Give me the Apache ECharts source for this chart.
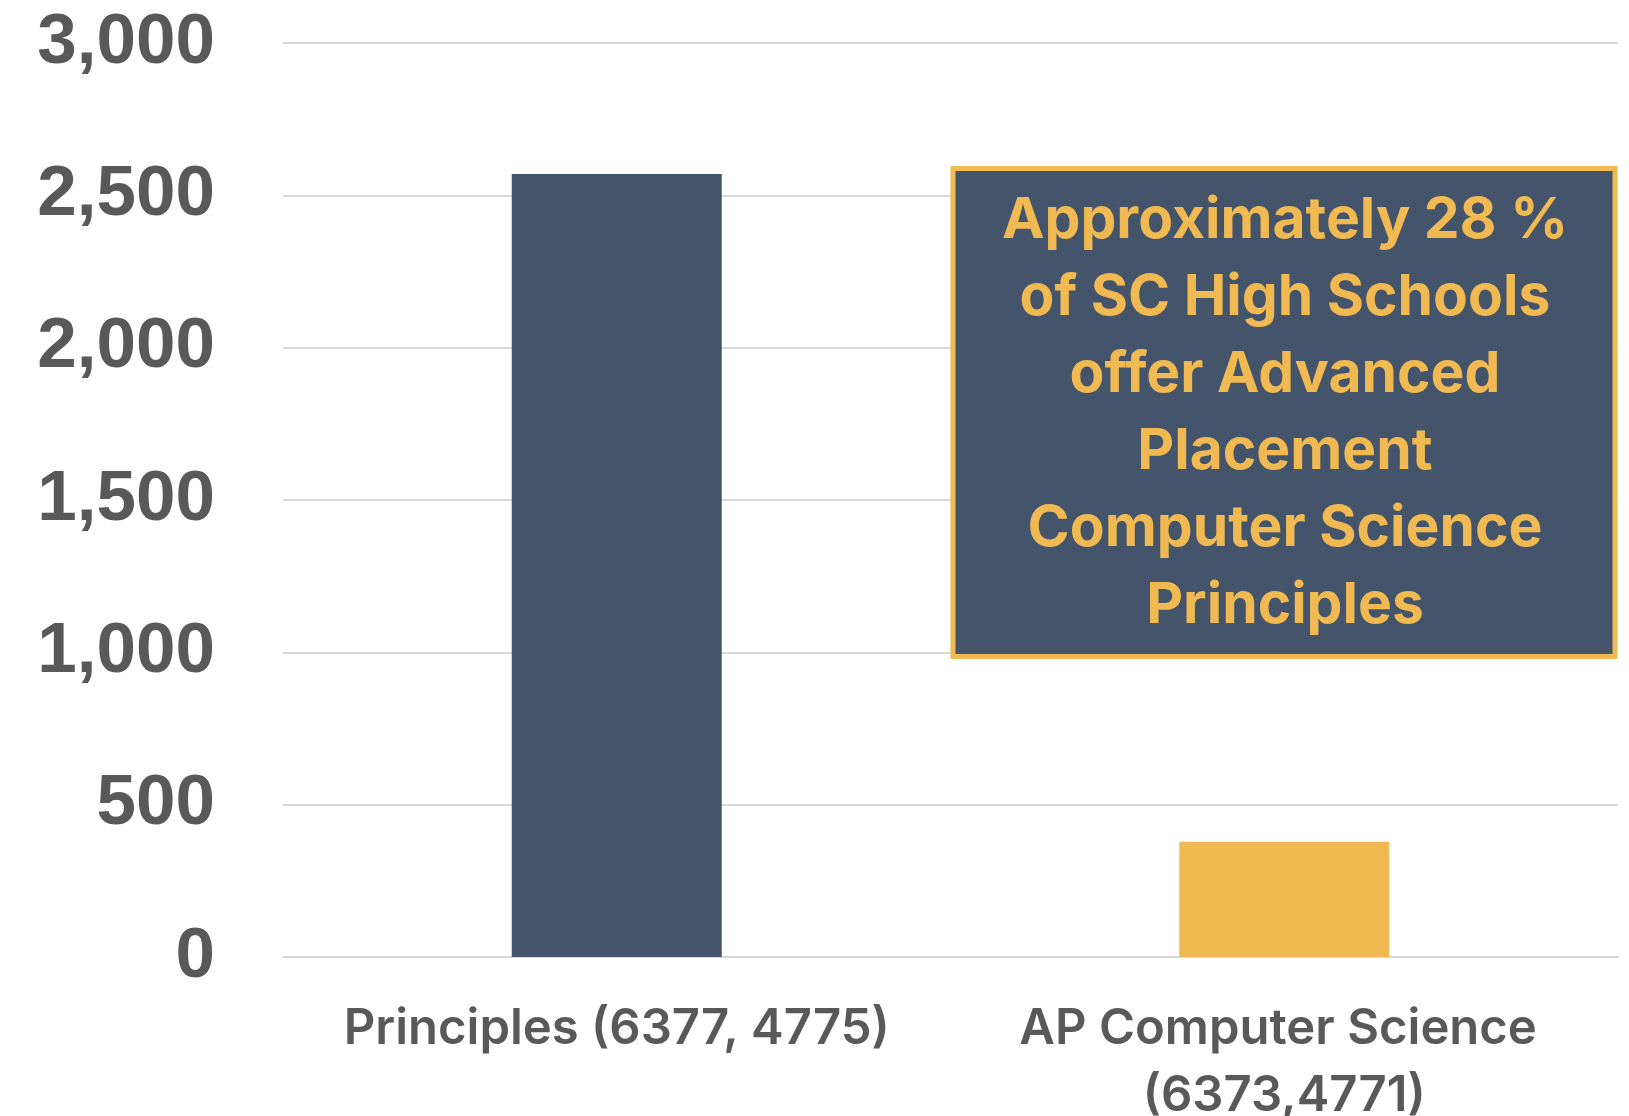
<!DOCTYPE html>
<html>
<head>
<meta charset="utf-8">
<script src="https://cdn.jsdelivr.net/npm/echarts@6/dist/echarts.min.js"></script>
<style>
  html, body { margin: 0; padding: 0; background: #ffffff; }
  #chart { width: 1629px; height: 1116px; }
</style>
</head>
<body>
<div id="chart"></div>
<script>
// ---- data ----
const categories = ['Principles (6377, 4775)', 'AP Computer Science (6373,4771)'];
const schoolCounts = [2570, 378];
const barColors = ['#44546A', '#F1B952'];
const yTicks = [0, 500, 1000, 1500, 2000, 2500, 3000];
const noteLines = [
  'Approximately 28 %',
  'of SC High Schools',
  'offer Advanced',
  'Placement',
  'Computer Science',
  'Principles'
];

const chart = echarts.init(document.getElementById('chart'), null, { renderer: 'canvas' });

const option = {
  animation: false,
  backgroundColor: '#ffffff',
  grid: { left: 283, right: 11, top: 43, bottom: 159, containLabel: false, outerBoundsMode: 'none' },
  xAxis: {
    type: 'category',
    data: categories,
    axisLine: { show: true, lineStyle: { color: '#D9D9D9', width: 2 } },
    axisTick: { show: false },
    axisLabel: {
      interval: 0,
      margin: 39,
      color: '#595959',
      fontFamily: 'Inter',
      fontWeight: 600,
      fontSize: 49,
      lineHeight: 67,
      width: 620,
      overflow: 'break',
      align: 'center'
    }
  },
  yAxis: {
    type: 'value',
    min: yTicks[0],
    max: yTicks[yTicks.length - 1],
    interval: 500,
    axisLine: { show: false },
    axisTick: { show: false },
    splitLine: { show: true, lineStyle: { color: '#D9D9D9', width: 2 } },
    axisLabel: {
      margin: 68,
      color: '#595959',
      fontFamily: '"Liberation Sans", Arial, sans-serif',
      fontWeight: 'bold',
      fontSize: 71,
      formatter: function (v) { return v.toLocaleString('en-US'); }
    }
  },
  series: [{
    type: 'bar',
    barWidth: 210,
    data: schoolCounts.map(function (v, i) {
      return { value: v, itemStyle: { color: barColors[i] } };
    })
  }],
  graphic: [
    {
      type: 'rect',
      z: 100,
      shape: { x: 953, y: 168.5, width: 662, height: 488 },
      style: { fill: '#44546A', stroke: '#F1B952', lineWidth: 5 }
    },
    {
      type: 'text',
      z: 101,
      x: 1285,
      y: 413,
      style: {
        text: noteLines.join('\n'),
        fill: '#F1B952',
        fontFamily: 'Inter',
        fontWeight: 700,
        fontSize: 57,
        lineHeight: 77,
        align: 'center',
        verticalAlign: 'middle'
      }
    }
  ]
};

chart.setOption(option);
</script>
</body>
</html>
